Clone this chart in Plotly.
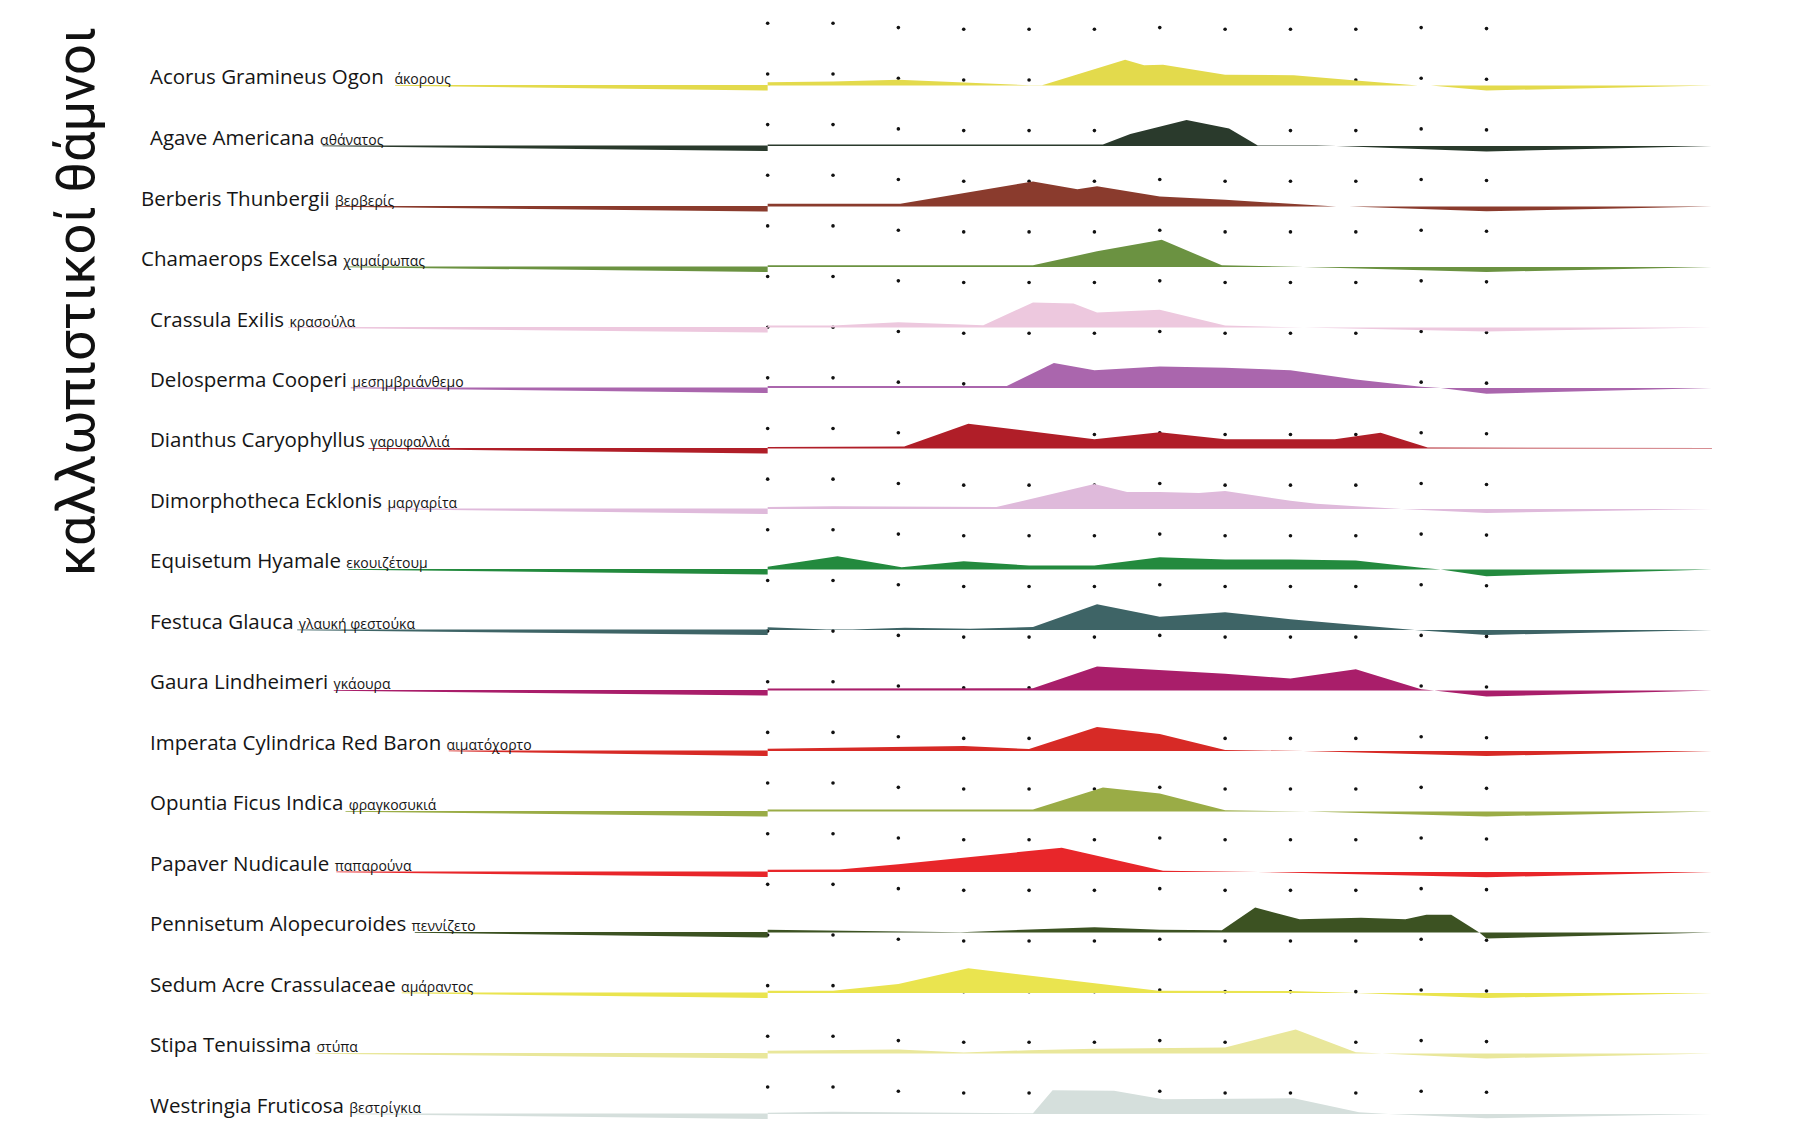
import plotly.graph_objects as go

# ---------------- data ----------------
months = list(range(1, 13))

plants = [
    "Acorus Gramineus Ogon", "Agave Americana", "Berberis Thunbergii", "Chamaerops Excelsa",
    "Crassula Exilis", "Delosperma Cooperi", "Dianthus Caryophyllus", "Dimorphotheca Ecklonis",
    "Equisetum Hyamale", "Festuca Glauca", "Gaura Lindheimeri", "Imperata Cylindrica Red Baron",
    "Opuntia Ficus Indica", "Papaver Nudicaule", "Pennisetum Alopecuroides", "Sedum Acre Crassulaceae",
    "Stipa Tenuissima", "Westringia Fruticosa",
]
greek = [
    "άκορους", "αθάνατος", "βερβερίς", "χαμαίρωπας", "κρασούλα", "μεσημβριάνθεμο", "γαρυφαλλιά",
    "μαργαρίτα", "εκουιζέτουμ", "γλαυκή φεστούκα", "γκάουρα", "αιματόχορτο", "φραγκοσυκιά",
    "παπαρούνα", "πεννίζετο", "αμάραντος", "στύπα", "βεστρίγκια",
]
colors = [
    "#E3DA4C", "#2A3A2C", "#8A3B2D", "#6B9241", "#EDC8DE", "#AA66AD", "#B01E28", "#DFBADB",
    "#238A3E", "#3E6466", "#A91E6A", "#D72A26", "#9AAC46", "#E8262A", "#3C5222", "#EAE44F",
    "#E9E79B", "#D5DFDC",
]

# month position / value pairs (value >0 above the row line, <0 below it)
acorus_x = [1.0, 2.0, 3.0, 4.0, 4.6, 5.0, 5.2, 6.47, 6.76, 7.05, 8.0, 9.05, 10.0, 10.95, 11.15, 12.0, 15.45]
acorus_v = [3.3, 4.0, 5.7, 3.0, 1.0, 0.3, 0.3, 25.7, 20.3, 20.7, 10.7, 10.3, 5.0, 0.0, 0.0, -5.0, 0.0]
agave_x = [1.0, 6.13, 6.55, 7.41, 8.06, 8.5, 9.4, 9.7, 12.0, 15.45]
agave_v = [1.5, 1.5, 12.0, 26.0, 17.5, 0.5, 0.5, 0.0, -5.5, 0.0]
berberis_x = [1.0, 3.03, 5.06, 5.74, 6.04, 7.0, 8.0, 9.0, 9.7, 9.9, 12.0, 15.45]
berberis_v = [2.7, 2.7, 25.0, 17.3, 20.3, 10.0, 6.7, 2.7, 0.0, 0.0, -4.7, 0.0]
chamaerops_x = [1.0, 5.06, 6.04, 7.03, 7.95, 8.8, 9.2, 12.0, 15.45]
chamaerops_v = [1.7, 1.7, 15.7, 27.3, 1.7, 0.5, 0.0, -5.0, 0.0]
crassula_x = [1.0, 2.0, 3.0, 4.1, 4.3, 5.06, 5.68, 6.04, 7.0, 8.0, 8.8, 9.2, 12.0, 15.45]
crassula_v = [2.0, 2.0, 5.3, 2.7, 2.3, 25.0, 24.0, 15.0, 17.7, 2.0, 1.0, 0.0, -4.0, 0.0]
delosperma_x = [1.0, 4.66, 5.38, 6.0, 7.0, 8.0, 9.0, 10.0, 11.0, 11.3, 12.0, 15.45]
delosperma_v = [2.0, 2.0, 25.0, 17.8, 21.5, 20.2, 17.8, 8.5, 1.3, 0.0, -5.7, 0.0]
dianthus_x = [1.0, 3.09, 4.07, 6.0, 7.0, 8.0, 9.68, 10.38, 11.1, 12.0, 15.45]
dianthus_v = [1.5, 2.0, 24.7, 9.3, 16.3, 9.3, 9.3, 15.7, 1.0, 1.0, 0.5]
dimorphotheca_x = [1.0, 2.0, 4.5, 6.0, 6.5, 7.0, 7.6, 8.0, 9.0, 9.4, 10.0, 10.7, 12.0, 15.45]
dimorphotheca_v = [2.0, 2.7, 2.0, 25.0, 17.0, 17.0, 16.0, 18.0, 8.3, 5.3, 2.7, 0.0, -4.0, 0.0]
equisetum_x = [1.0, 2.07, 3.05, 4.0, 5.0, 6.0, 7.0, 8.0, 9.0, 10.0, 11.0, 11.3, 12.0, 15.45]
equisetum_v = [2.7, 13.3, 2.3, 8.3, 4.0, 4.0, 12.3, 10.0, 10.0, 9.0, 1.7, 0.0, -6.7, 0.0]
festuca_x = [1.0, 1.9, 2.3, 3.1, 4.1, 5.06, 6.04, 7.0, 8.0, 9.0, 10.0, 10.9, 12.0, 15.45]
festuca_v = [2.7, 0.5, 0.5, 2.3, 1.3, 3.0, 25.7, 13.3, 17.7, 10.7, 5.0, 0.0, -5.0, 0.0]
gaura_x = [1.0, 5.06, 6.04, 8.0, 9.0, 10.0, 11.0, 11.2, 12.0, 15.45]
gaura_v = [2.0, 2.3, 24.0, 16.7, 12.0, 21.3, 1.3, 0.0, -6.0, 0.0]
imperata_x = [1.0, 3.0, 4.0, 5.0, 6.04, 7.0, 8.0, 8.5, 9.2, 12.0, 15.45]
imperata_v = [2.3, 4.0, 5.0, 2.0, 24.0, 17.0, 1.0, 0.5, 0.0, -5.0, 0.0]
opuntia_x = [1.0, 5.06, 6.13, 7.0, 8.0, 8.8, 9.25, 12.0, 15.45]
opuntia_v = [2.0, 2.0, 24.0, 18.0, 1.3, 0.5, 0.0, -5.0, 0.0]
papaver_x = [1.0, 2.1, 3.0, 4.0, 5.5, 7.05, 8.4, 8.5, 12.0, 15.45]
papaver_v = [2.3, 2.5, 7.7, 14.3, 24.3, 1.3, 0.5, 0.0, -5.3, 0.0]
pennisetum_x = [1.0, 3.95, 6.0, 7.0, 7.95, 8.46, 9.14, 10.08, 10.76, 11.08, 11.46, 11.89, 12.0, 15.45]
pennisetum_v = [2.7, 0.3, 5.3, 2.7, 2.3, 25.0, 13.3, 14.7, 13.3, 17.7, 17.7, 0.0, -6.0, 0.0]
sedum_x = [1.0, 2.0, 3.0, 4.07, 6.98, 8.0, 9.0, 9.9, 12.0, 15.45]
sedum_v = [2.3, 2.3, 9.0, 24.7, 2.3, 2.0, 2.0, 0.3, -5.0, 0.0]
stipa_x = [1.0, 3.0, 4.0, 5.0, 6.0, 8.0, 9.08, 10.0, 10.4, 12.0, 15.45]
stipa_v = [2.7, 4.0, 1.0, 3.3, 4.7, 6.0, 24.0, 1.3, 0.0, -5.0, 0.0]
westringia_x = [1.0, 2.0, 5.06, 5.36, 6.3, 7.05, 9.05, 10.05, 10.5, 12.0, 15.45]
westringia_v = [1.3, 2.3, 0.7, 23.7, 23.3, 14.7, 15.7, 1.7, 0.0, -4.3, 0.0]

series_x = [acorus_x, agave_x, berberis_x, chamaerops_x, crassula_x, delosperma_x, dianthus_x,
            dimorphotheca_x, equisetum_x, festuca_x, gaura_x, imperata_x, opuntia_x, papaver_x,
            pennisetum_x, sedum_x, stipa_x, westringia_x]
series_v = [acorus_v, agave_v, berberis_v, chamaerops_v, crassula_v, delosperma_v, dianthus_v,
            dimorphotheca_v, equisetum_v, festuca_v, gaura_v, imperata_v, opuntia_v, papaver_v,
            pennisetum_v, sedum_v, stipa_v, westringia_v]

# where the thin stem line under each label begins (month-axis units)
stem_start = [-4.70, -5.81, -5.62, -5.46, -6.34, -5.38, -5.11, -4.83, -5.42,
              -6.20, -5.64, -3.88, -5.46, -5.60, -4.40, -4.60, -5.92, -5.34]

# ---------------- layout constants ----------------
W, H = 1806, 1125
ROW_PX = 60.5            # pixels per row unit
X_RANGE = [-10.747, 16.889]
Y_RANGE = [-17.182, 1.4132]
LABEL_X = [-8.487, -8.487, -8.625, -8.625] + [-8.487] * 14
STEM_DEPTH = 5.0
DOT_TOP, DOT_STEP, DOT_ROWS = 0.9289, 0.8372, 22
DOT_LIFT = [6, 6, 1.7, 0, 0, 0, 1.7, 0, 0, 0, 1.7, 0.7]


def ry(i, v):
    return -i + v / ROW_PX


fig = go.Figure()

# dotted month grid (drawn first, under the areas)
dx, dy = [], []
for k in range(DOT_ROWS):
    for j, m in enumerate(months):
        dx.append(m)
        dy.append(DOT_TOP - DOT_STEP * k + DOT_LIFT[j] / ROW_PX)
fig.add_trace(go.Scatter(x=dx, y=dy, mode="markers", hoverinfo="skip",
                         marker=dict(size=3.6, color="#111111", symbol="circle", line=dict(width=0))))

for i in range(len(plants)):
    c = colors[i]
    xs, vs = series_x[i], series_v[i]
    px = list(xs) + [xs[-1], xs[0]]
    py = [ry(i, v) for v in vs] + [ry(i, 0), ry(i, 0)]
    fig.add_trace(go.Scatter(x=px, y=py, mode="lines", fill="toself", fillcolor=c,
                             line=dict(width=0, color=c), hoverinfo="skip"))
    # tapered stem from the label to the first month
    sx = [stem_start[i], xs[0], xs[0], stem_start[i]]
    sy = [ry(i, 0.6), ry(i, 0.6), ry(i, -STEM_DEPTH), ry(i, -0.3)]
    fig.add_trace(go.Scatter(x=sx, y=sy, mode="lines", fill="toself", fillcolor=c,
                             line=dict(width=0, color=c), hoverinfo="skip"))

for i in range(len(plants)):
    sep = "&nbsp;&nbsp;" if i == 0 else " "
    fig.add_annotation(
        x=LABEL_X[i], y=-i, xref="x", yref="y", xanchor="left", yanchor="bottom", yshift=-7,
        text=f"{plants[i]}{sep}<span style='font-size:14px'>{greek[i]}</span>",
        showarrow=False, font=dict(family="Open Sans", size=20.5, color="#151515"),
    )

fig.add_annotation(
    x=75 / W, y=1 - 302 / H, xref="paper", yref="paper", xanchor="center", yanchor="middle",
    text="καλλωπιστικοί θάμνοι", textangle=-90, showarrow=False,
    font=dict(family="Roboto", size=54, color="#111111", weight=400),
)

fig.update_layout(
    width=W, height=H, margin=dict(l=0, r=0, t=0, b=0, pad=0),
    paper_bgcolor="white", plot_bgcolor="white", showlegend=False,
    xaxis=dict(range=X_RANGE, visible=False, fixedrange=True),
    yaxis=dict(range=Y_RANGE, visible=False, fixedrange=True),
)

fig.write_html("out.html", config={"displayModeBar": False},
               post_script="document.body.style.margin='0px';")
